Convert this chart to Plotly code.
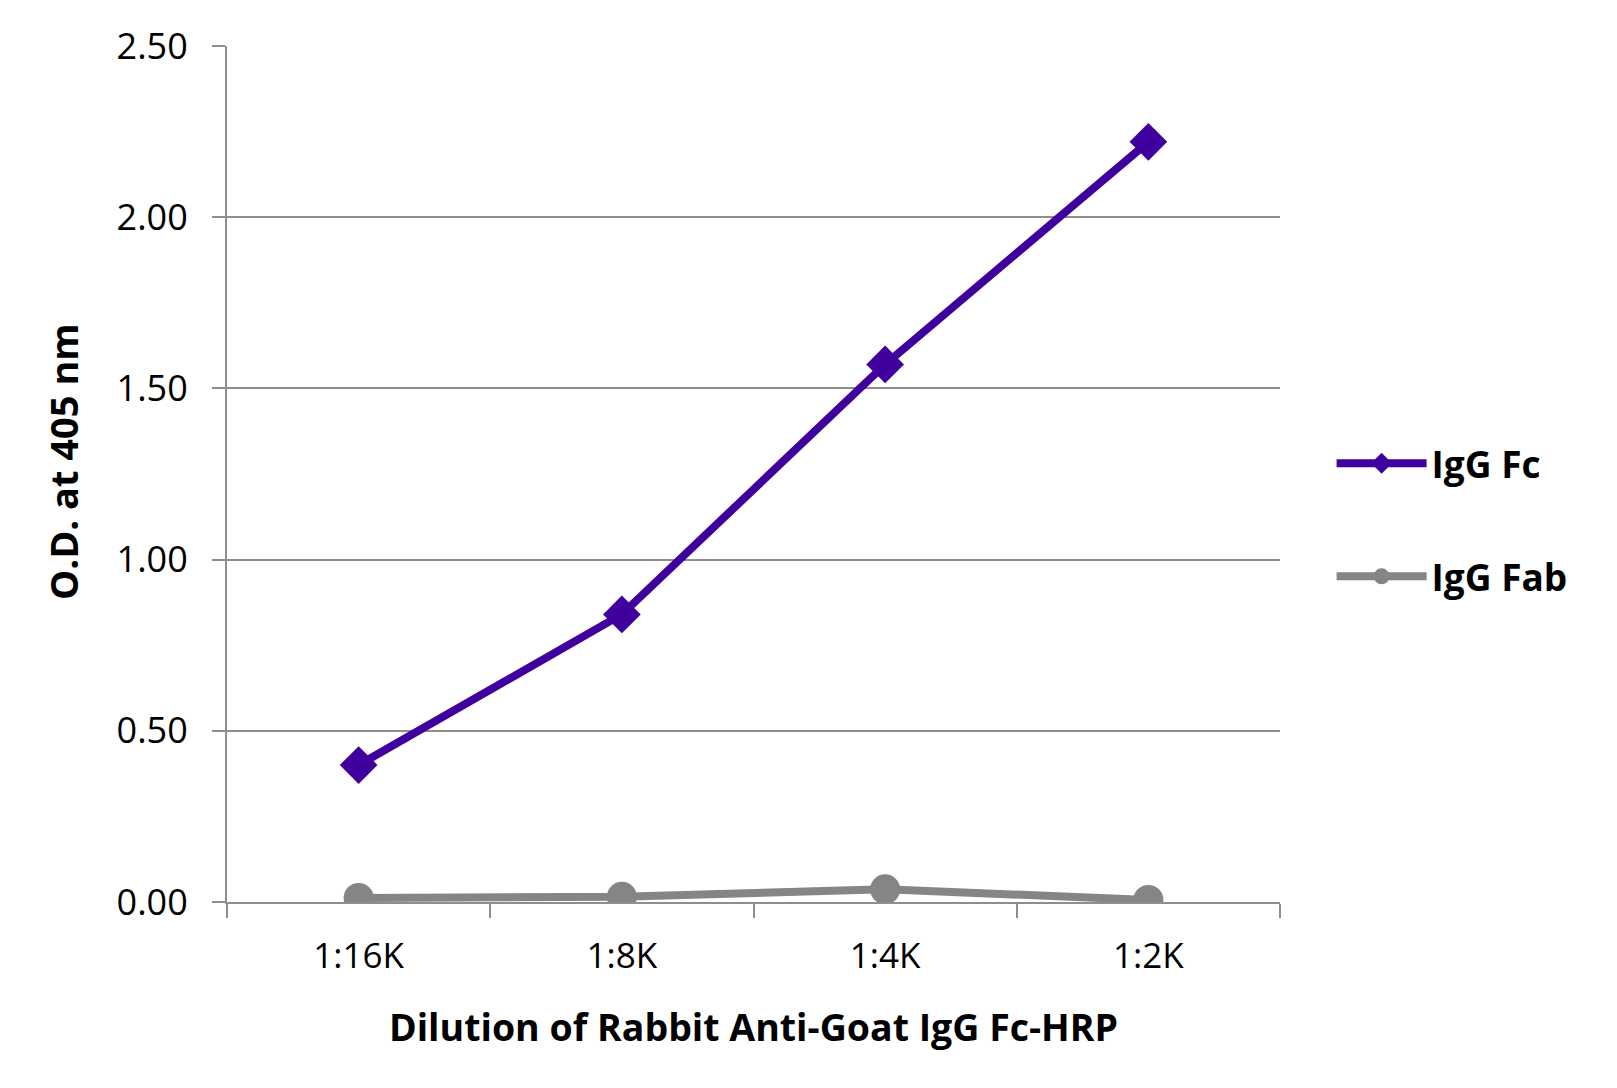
import plotly.graph_objects as go

categories = ["1:16K", "1:8K", "1:4K", "1:2K"]
igg_fc = [0.40, 0.84, 1.57, 2.22]
igg_fab = [0.012, 0.015, 0.037, 0.006]
y_ticks = [0, 0.5, 1.0, 1.5, 2.0, 2.5]

PURPLE = "#40009E"
GRAY = "#858585"
GRID = "#8E8E8E"
FONT = "Open Sans"

fig = go.Figure()
fig.add_trace(go.Scatter(
    x=categories, y=igg_fc, name="IgG Fc", mode="lines+markers",
    legendgroup="fc",
    line=dict(color=PURPLE, width=8),
    marker=dict(symbol="diamond", size=29, color=PURPLE),
))
fig.add_trace(go.Scatter(
    x=categories, y=igg_fab, name="IgG Fab", mode="lines+markers",
    legendgroup="fab",
    line=dict(color=GRAY, width=8),
    marker=dict(symbol="circle", size=30, color=GRAY),
))

fig.update_layout(
    width=1609, height=1080,
    margin=dict(l=219, r=337, t=38, b=186),
    paper_bgcolor="white", plot_bgcolor="white",
    font=dict(family=FONT, color="black", size=36),
    legend=dict(
        x=1.049, y=0.446, xanchor="left", yanchor="middle",
        font=dict(family=FONT, size=37, color="black", weight="bold"),
        tracegroupgap=62, itemwidth=90, traceorder="grouped",
        bgcolor="rgba(0,0,0,0)",
    ),
    xaxis=dict(
        type="category", categoryorder="array", categoryarray=categories,
        range=[-0.5, 3.5],
        showline=True, linecolor=GRID, linewidth=2,
        ticks="outside", tickson="boundaries", ticklen=14, tickcolor=GRID, tickwidth=2,
        showgrid=False, zeroline=False,
        tickfont=dict(family=FONT, size=35, color="black"),
        ticklabelstandoff=22,
        title=dict(text="<b>Dilution of Rabbit Anti-Goat IgG Fc-HRP</b>",
                   font=dict(family=FONT, size=37.5, color="black"), standoff=38),
    ),
    yaxis=dict(
        range=[0, 2.5], tickvals=y_ticks, tickformat=".2f",
        showline=True, linecolor=GRID, linewidth=2,
        ticks="outside", ticklen=13, tickcolor=GRID, tickwidth=2,
        showgrid=True, gridcolor=GRID, gridwidth=2, zeroline=False,
        tickfont=dict(family=FONT, size=36, color="black"),
        ticklabelstandoff=17,
    ),
    annotations=[dict(
        text="<b>O.D. at 405 nm</b>", textangle=-90,
        xref="paper", yref="paper", x=-0.156, y=0.515,
        xanchor="center", yanchor="middle", showarrow=False,
        font=dict(family=FONT, size=38, color="black"),
    )],
)

fig.write_html("out.html")
